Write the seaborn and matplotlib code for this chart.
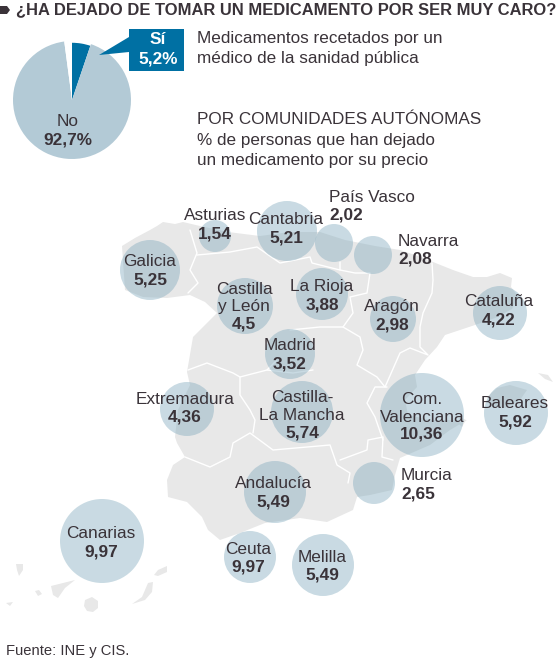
import matplotlib
matplotlib.use("Agg")
import matplotlib.pyplot as plt
from matplotlib.patches import Polygon, Rectangle
import pandas as pd
import seaborn as sns

# ---- data ----
pie_labels = ["Sí", "No", "NS/NC"]
pie_values = [5.2, 92.7, 2.1]
regions = ["Asturias", "Cantabria", "País Vasco", "Navarra", "Galicia", "Castilla y León",
           "La Rioja", "Aragón", "Cataluña", "Madrid", "Extremadura", "Castilla-La Mancha",
           "Com. Valenciana", "Baleares", "Murcia", "Andalucía", "Ceuta", "Melilla", "Canarias"]
values = [1.54, 5.21, 2.02, 2.08, 5.25, 4.5, 3.88, 2.98, 4.22, 3.52, 4.36, 5.74,
          10.36, 5.92, 2.65, 5.49, 9.97, 5.49, 9.97]
name_lines = [["Asturias"], ["Cantabria"], ["País Vasco"], ["Navarra"], ["Galicia"],
              ["Castilla", "y León"], ["La Rioja"], ["Aragón"], ["Cataluña"], ["Madrid"],
              ["Extremadura"], ["Castilla-", "La Mancha"], ["Com.", "Valenciana"], ["Baleares"],
              ["Murcia"], ["Andalucía"], ["Ceuta"], ["Melilla"], ["Canarias"]]

# ---- layout (pixels of the 560x663 picture) ----
bubble_x = [215, 287, 334, 373, 150, 245, 322, 393, 500, 290, 187, 302, 422, 516, 374, 275, 250, 323, 102]
bubble_y = [236, 231, 243, 255, 270, 306, 294, 319, 313, 354, 409, 412, 415, 413, 483, 492, 557, 565, 541]
bubble_r = [16, 30, 19, 19, 30, 28, 26, 23, 27, 25, 27, 31, 42, 32, 21, 31, 26, 31, 42]
label_x = [215, 286, 329, 398, 150, 244, 322, 392, 499, 290, 185, 302, 422, 515, 401, 273, 248, 322, 101]
label_y = [216, 220, 197, 241, 262, 289, 287, 307, 302, 346, 399, 398, 399, 404, 476, 484, 549, 557, 534]
label_ha = ["center", "center", "left", "left"] + ["center"] * 10 + ["left"] + ["center"] * 4

spain = [(122,246),(135,238),(150,230),(157,226),(163,222),(175,224),(183,222),(200,226),(228,232),(260,236),
         (290,232),(320,232),(345,240),(375,246),(400,250),(418,256),(433,262),(453,270),(473,277),(487,277),
         (500,273),(512,278),(511,287),(518,296),(512,309),(495,318),(475,325),(445,335),(437,347),(425,360),
         (415,375),(417,387),(405,400),(408,415),(430,420),(467,420),(450,430),(430,445),(400,458),(395,475),
         (392,490),(370,495),(357,497),(353,510),(327,522),(300,518),(265,523),(240,533),(220,540),(208,530),
         (202,517),(187,502),(168,497),(167,480),(173,465),(185,457),(177,443),(175,437),(178,410),(190,385),
         (187,372),(193,337),(217,313),(205,302),(190,295),(167,298),(143,297),(125,290)]
islands = [[(132,604),(142,597),(148,583),(153,582),(152,592),(145,600)],
           [(154,575),(158,570),(167,566),(167,572),(158,576)],
           [(51,586),(75,580),(65,588),(58,598),(53,595)],
           [(16,564),(23,564),(23,570),(19,576),(17,570)],
           [(6,603),(13,602),(10,606)],
           [(35,591),(39,590),(42,594),(38,596)],
           [(85,600),(92,597),(98,601),(98,608),(93,612),(87,611),(84,606)],
           [(487,397),(497,388),(510,385),(527,390),(520,400),(505,408),(492,405)],
           [(538,373),(548,375),(553,382),(545,379)],
           [(460,417),(466,420),(462,427),(458,423)]]
borders = [[(190,230),(197,253),(190,270),(198,283),(188,293)],
           [(197,255),(230,252),(257,247),(280,263),(310,257),(312,263),(340,270),(340,262)],
           [(340,270),(355,273),(370,273),(367,293),(350,297),(353,313),(343,327),(320,327),(290,330)],
           [(343,327),(360,337),(363,350),(357,365),(377,377),(385,387),(400,353),(410,348),(428,355),(420,347),
            (420,327),(423,313),(432,293),(433,280),(432,263)],
           [(188,370),(207,363),(233,373),(240,377),(267,370),(277,360)],
           [(267,370),(293,373),(313,370)],
           [(240,377),(240,395),(250,410),(255,420),(253,433)],
           [(185,457),(210,467),(230,457),(233,443),(250,433),(273,450),(330,445),(337,465),(350,473),(348,483)],
           [(340,460),(367,450),(368,440),(383,437),(382,457),(393,460)],
           [(383,440),(375,417),(367,403),(375,387),(387,387)]]

pie_center = (72, 100)
pie_radius = 59
INK = "#3a3339"
BLUE = "#0070a3"
LIGHT = "#b3cad6"
W, H = 560, 663

sns.set_theme(style="white")
plt.rcParams["font.family"] = ["Liberation Sans", "DejaVu Sans"]

fig = plt.figure(figsize=(W / 100, H / 100), dpi=100, facecolor="white")
ax = fig.add_axes([0, 0, 1, 1])
ax.set_xlim(0, W)
ax.set_ylim(H, 0)
ax.axis("off")

# map background
ax.add_patch(Polygon(spain, closed=True, fc="#e8e8e8", ec="none", zorder=1))
for isl in islands:
    ax.add_patch(Polygon(isl, closed=True, fc="#e8e8e8", ec="none", zorder=1))
for b in borders:
    xs, ys = zip(*b)
    ax.plot(xs, ys, color="white", lw=1.0, zorder=2, solid_joinstyle="round")

# bubbles
bubbles = pd.DataFrame({"region": regions, "x": bubble_x, "y": bubble_y})
sizes = {n: (2 * r * 72 / 100) ** 2 for n, r in zip(regions, bubble_r)}
sns.scatterplot(data=bubbles, x="x", y="y", size="region", sizes=sizes, color="#82abbe",
                alpha=0.43, linewidth=0, legend=False, ax=ax, zorder=3)
ax.set_xlim(0, W)
ax.set_ylim(H, 0)
ax.set_xlabel("")
ax.set_ylabel("")

# bubble labels
FS = 12.4
LH = 18
for lines, v, x, y, ha in zip(name_lines, values, label_x, label_y, label_ha):
    for i, line in enumerate(lines):
        ax.text(x, y + i * LH, line, ha=ha, va="center", fontsize=FS, color=INK, zorder=5)
    ax.text(x, y + len(lines) * LH - (1 if len(lines) > 1 else 0), str(v).replace(".", ","), ha=ha, va="center",
            fontsize=FS, fontweight="bold", color=INK, zorder=5)

# header
ax.add_patch(Polygon([(0,6),(7,6),(10,10),(7,14),(0,14)], closed=True, fc=INK, ec="none"))
ax.text(16, 10, "¿HA DEJADO DE TOMAR UN MEDICAMENTO POR SER MUY CARO?", ha="left", va="center",
        fontsize=11.85, fontweight="bold", color=INK)

# side texts
for y, t in [(38, "Medicamentos recetados por un"), (58, "médico de la sanidad pública"),
             (120, "POR COMUNIDADES AUTÓNOMAS"), (140, "% de personas que han dejado"),
             (160, "un medicamento por su precio")]:
    ax.text(197, y, t, ha="left", va="center", fontsize=12.3, color=INK)
ax.text(6, 651, "Fuente: INE y CIS.", ha="left", va="center", fontsize=10.6, color=INK)

# pie
px, py = pie_center
pax = fig.add_axes([(px - pie_radius) / W, 1 - (py + pie_radius) / H, 2 * pie_radius / W, 2 * pie_radius / H])
wedges, _ = pax.pie(pie_values, colors=[BLUE, LIGHT, "white"], startangle=90, counterclock=False,
                    radius=1, wedgeprops={"linewidth": 0})
wedges[0].set_radius(0.97)
pax.set_xlim(-1, 1)
pax.set_ylim(-1, 1)
pax.set_zorder(1)

# callout and pie labels on top of the pie
cax = fig.add_axes([0, 0, 1, 1], facecolor="none")
cax.set_xlim(0, W)
cax.set_ylim(H, 0)
cax.axis("off")
cax.set_zorder(2)
cax.add_patch(Rectangle((129, 29), 55, 42, fc=BLUE, ec="none"))
cax.add_patch(Polygon([(99, 55), (129, 37), (129, 52)], closed=True, fc=BLUE, ec="none"))
cax.text(158, 40, pie_labels[0], ha="center", va="center", fontsize=FS, fontweight="bold", color="white")
cax.text(158, 59, "5,2%", ha="center", va="center", fontsize=FS, fontweight="bold", color="white")
cax.text(68, 122, pie_labels[1], ha="center", va="center", fontsize=FS, color=INK)
cax.text(68, 140, "92,7%", ha="center", va="center", fontsize=FS, fontweight="bold", color=INK)

fig.savefig("out.png", dpi=100, facecolor="white")
